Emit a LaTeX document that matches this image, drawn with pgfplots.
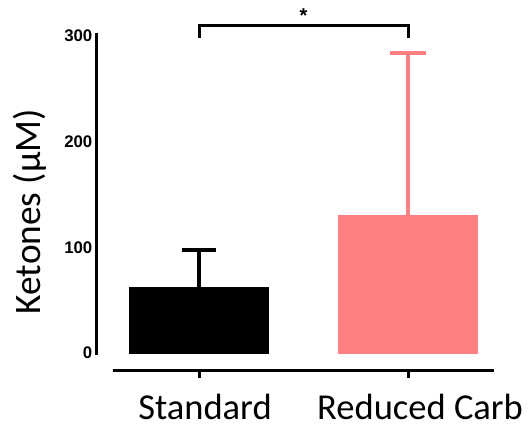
\documentclass[border=0pt]{standalone}
\usepackage{pgfplots}
\pgfplotsset{compat=1.18}
\usepackage{fontspec}
\setmainfont{Carlito}
\newfontfamily\arialfont{Liberation Sans}
\definecolor{pinkbar}{RGB}{255,128,128}
\begin{document}
\begin{tikzpicture}
\begin{axis}[
  scale only axis,
  width=297.75pt, height=237.75pt,
  xmin=-0.488, xmax=1.411,
  ymin=0, ymax=300,
  clip=false,
  axis line style={draw=none},
  major tick length=0pt,
  ytick={0,100,200,300},
  /pgf/number format/assume math mode=true,
  yticklabel style={font=\arialfont\bfseries\fontsize{12.6}{14}\selectfont, anchor=east},
  xtick={0,1},
  xticklabels={\hspace{9pt}Standard, \hspace{18pt}Reduced Carb},
  xticklabel style={font=\fontsize{27.4}{30}\selectfont, anchor=base, inner sep=0pt, yshift=-49.5pt},
  every axis y label/.style={at={(axis description cs:-0.169,0.446)}, rotate=90, anchor=center, font=\fontsize{28}{32}\selectfont},
  ylabel={Ketones (μM)},
  ybar, bar width=0.665, bar shift=0pt,
]
\addplot[fill=black, draw=black,
  error bars/.cd, y dir=plus, y explicit,
  error bar style={line width=3pt, black},
  error mark options={rotate=90, mark size=13pt, line width=3pt, black}]
  coordinates {(0,62.5) +- (0,35)};
\addplot[fill=pinkbar, draw=pinkbar,
  error bars/.cd, y dir=plus, y explicit,
  error bar style={line width=2.6pt, pinkbar},
  error mark options={rotate=90, mark size=13.5pt, line width=3pt, pinkbar}]
  coordinates {(1,130.5) +- (0,153.3)};
% axis lines
\draw[line width=2.25pt] (axis cs:-0.488,303) -- (axis cs:-0.488,-2);
\draw[line width=2.25pt] (axis cs:-0.412,-17) -- (axis cs:1.411,-17);
\draw[line width=2.25pt] (axis cs:0,-17) -- (axis cs:0,-23.7);
\draw[line width=2.25pt] (axis cs:1,-17) -- (axis cs:1,-23.7);
% significance bracket
\draw[line width=2.25pt] (axis cs:0,298) -- (axis cs:0,310.4) -- (axis cs:1,310.4) -- (axis cs:1,298);
\node[font=\arialfont\bfseries\fontsize{15}{16}\selectfont, anchor=center] at (axis cs:0.5,319.5) {*};
% bounding box
\path (rel axis cs:0,0) ++(-72.75pt,-54.75pt) rectangle ++(396pt,319.5pt);
\end{axis}
\end{tikzpicture}
\end{document}
